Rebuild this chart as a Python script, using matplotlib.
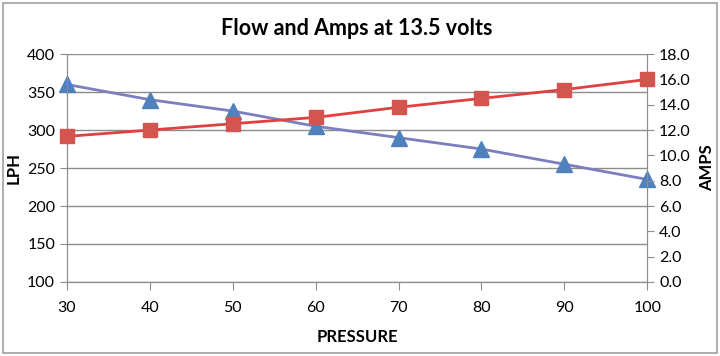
import matplotlib
matplotlib.use("Agg")
import matplotlib.pyplot as plt
from matplotlib.patches import Rectangle
from matplotlib.ticker import FormatStrFormatter

# data
pressure = [30, 40, 50, 60, 70, 80, 90, 100]
flow_lph = [360, 340, 325, 305, 290, 275, 255, 235]
amps = [11.5, 12.0, 12.5, 13.0, 13.8, 14.5, 15.2, 16.0]

plt.rcParams['font.family'] = ['Lato', 'DejaVu Sans']
grey = '#8c8c8c'

fig = plt.figure(figsize=(7.2, 3.56), dpi=100)
fig.patches.append(Rectangle((0.004, 0.008), 0.992, 0.984, transform=fig.transFigure,
                             fill=False, edgecolor='#a0a0a0', linewidth=1.2))

ax = fig.add_axes([0.093, 0.208, 0.806, 0.640])
ax2 = ax.twinx()

# flow on the left axis
ax.plot(pressure, flow_lph, color='#7B7FBF', linewidth=2, marker='^', markersize=11,
        markerfacecolor='#4F81BD', markeredgecolor='#4F81BD', zorder=3, clip_on=False)
# amps on the right axis
ax2.plot(pressure, amps, color='#E0403E', linewidth=2, marker='s', markersize=10,
         markerfacecolor='#D45550', markeredgecolor='#D45550', zorder=3, clip_on=False)

ax.set_xlim(30, 100)
ax.set_ylim(100, 400)
ax.set_xticks(pressure)
ax.set_yticks(range(100, 401, 50))
ax2.set_ylim(0, 18)
ax2.set_yticks(range(0, 19, 2))
ax2.yaxis.set_major_formatter(FormatStrFormatter('%.1f'))

ax.grid(axis='y', color=grey, linewidth=1)
ax.set_axisbelow(True)

for a in (ax, ax2):
    a.spines['top'].set_visible(False)
    for s in ('left', 'right', 'bottom'):
        a.spines[s].set_color(grey)
    a.tick_params(colors=grey, labelcolor='black', labelsize=11.5, length=5)
ax.tick_params(axis='x', pad=8, length=6)

ax.set_title('Flow and Amps at 13.5 volts', fontsize=15.5, fontweight='bold', pad=14)
ax.set_xlabel('PRESSURE', fontsize=12, fontweight='bold', labelpad=10)
ax.set_ylabel('LPH', fontsize=12, fontweight='bold', labelpad=4)
ax2.set_ylabel('AMPS', fontsize=12, fontweight='bold', labelpad=6)

fig.savefig('out.png', dpi=100)
